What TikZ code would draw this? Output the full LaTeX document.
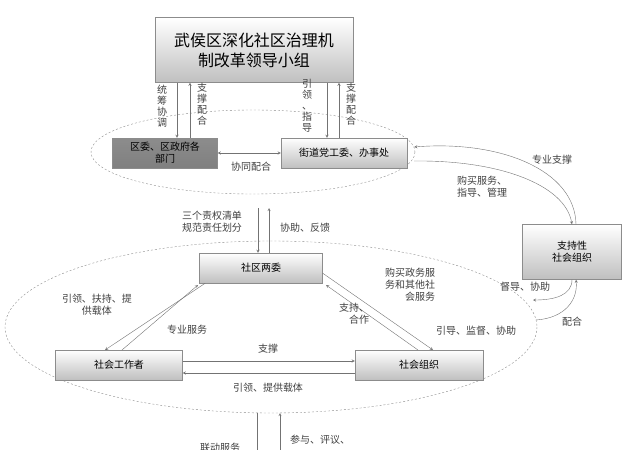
\documentclass[tikz,border=0pt]{standalone}
\usepackage{fontspec}
\newfontfamily\cjk{Noto Sans CJK SC}
\usepackage{tikz}
\usetikzlibrary{positioning}

\begin{document}
\begin{tikzpicture}[x=1pt,y=-1pt,
		unit/.style={
			% The shape:
			rectangle,inner sep=2pt,
			% The rest
			draw=black!45,top color=white,bottom color=black!25,
			font=\cjk\fontsize{10}{12}\selectfont,align=center},
		unitdark/.style={unit,top color=black!45,bottom color=black!50},
		lbl/.style={font=\cjk\fontsize{10}{12}\selectfont,align=center,text=black!75,inner sep=1pt},
		vlbl/.style={lbl,font=\cjk\fontsize{10}{11}\selectfont},
		flow/.style={->,draw=black!55,>=stealth},
		ring/.style={draw=black!45,dashed,dash pattern=on 2pt off 2pt}]
		\useasboundingbox (0,0) rectangle (625,450);
		\clip (0,0) rectangle (625,450);
		% groups
		\draw[ring] (253,152) ellipse (162 and 42);
		\draw[ring] (271,327) ellipse (266 and 86);
		% nodes
		\node (n_lead)	[unit,minimum width=198,minimum height=65,
			font=\cjk\fontsize{16}{20}\selectfont] at (254,50) {武侯区深化社区治理机\\制改革领导小组};
		\node (n_dist)	[unitdark,minimum width=105,minimum height=30] at (165,153) {区委、区政府各\\部门};
		\node (n_street)	[unit,minimum width=126,minimum height=30] at (344,153) {街道党工委、办事处};
		\node (n_comm)	[unit,minimum width=123,minimum height=30] at (261,268) {社区两委};
		\node (n_work)	[unit,minimum width=127,minimum height=30] at (119,365) {社会工作者};
		\node (n_org)	[unit,minimum width=128,minimum height=30] at (419,365) {社会组织};
		\node (n_sup)	[unit,minimum width=99,minimum height=55] at (572,252) {支持性\\社会组织};
		\coordinate (c_top) at (258,195);
		\coordinate (c_top2) at (269,195);
		\coordinate (c_bot) at (257,413);
		\coordinate (c_bot2) at (280,413);
		\coordinate (c_east) at (533,300);
		\coordinate (c_east2) at (536,320);
		% leading group
		\draw[flow] (n_lead.south -| 177,0) -- (n_dist.north -| 177,0);
		\draw[flow] (n_dist.north -| 190,0) -- (n_lead.south -| 190,0);
		\draw[flow] (n_lead.south -| 327,0) -- (n_street.north -| 327,0);
		\draw[flow] (n_street.north -| 339,0) -- (n_lead.south -| 339,0);
		\node[vlbl] at (162,106) {统\\筹\\协\\调};
		\node[vlbl] at (202,104) {支\\撑\\配\\合};
		\node[vlbl] at (307,106) {引\\领\\、\\指\\导};
		\node[vlbl] at (351,104) {支\\撑\\配\\合};
		\draw[flow,<->] (n_dist) -- (n_street);
		\node[lbl] at (251,167) {协同配合};
		% to community
		\draw[flow] (c_top |- 0,208) -- (n_comm.north -| c_top);
		\draw[flow] (n_comm.north -| c_top2) -- (c_top2 |- 0,208);
		\node[lbl] at (212,222) {三个责权清单\\规范责任划分};
		\node[lbl] at (305,228) {协助、反馈};
		% triangle
		\draw[flow] (n_comm.south west) ++(6,0) -- (105,350);
		\draw[flow] (122,350) -- (198,285);
		\draw[flow] (n_comm.south east) ++(0,-10) -- (433,350);
		\draw[flow] (418,350) -- (326,285);
		\draw[flow] (n_work.east |- 0,361) -- (n_org.west |- 0,361);
		\draw[flow] (n_org.west |- 0,373) -- (n_work.east |- 0,373);
		\node[lbl] at (97,305) {引领、扶持、提\\供载体};
		\node[lbl] at (187,330) {专业服务};
		\node[lbl,align=right] at (410,285) {购买政务服\\务和其他社\\会服务};
		\node[lbl,align=right] at (354,314) {支持、\\合作};
		\node[lbl] at (476,331) {引导、监督、协助};
		\node[lbl] at (268,349) {支撑};
		\node[lbl] at (268,388) {引领、提供载体};
		% support organisation
		\draw[flow] (n_street.east) ++(7,8) .. controls (500,160) and (565,185) .. (n_sup.north);
		\draw[flow] (n_sup.north) ++(4,0) .. controls (575,170) and (500,140) .. ([xshift=7pt,yshift=6pt]n_street.east);
		\node[lbl] at (552,160) {专业支撑};
		\node[lbl] at (482,187) {购买服务、\\指导、管理};
		\draw[flow] (n_sup.south) .. controls (572,295) and (555,300) .. (c_east);
		\draw[flow] (c_east2) .. controls (565,318) and (578,300) .. ([xshift=4pt]n_sup.south);
		\node[lbl] at (525,287) {督导、协助};
		\node[lbl] at (572,322) {配合};
		% residents
		\draw[draw=black!55] (c_bot) -- (257,460);
		\draw[flow] (280,460) -- (c_bot2);
		\node[lbl] at (220,448) {联动服务};
		\node[lbl] at (320,440) {参与、评议、};
	\end{tikzpicture}
\end{document}
